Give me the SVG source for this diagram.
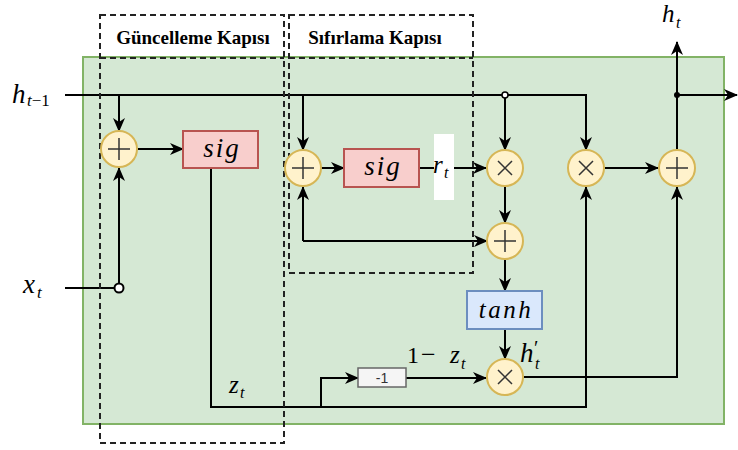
<svg xmlns="http://www.w3.org/2000/svg" width="738" height="450" viewBox="0 0 738 450">
<defs>
<marker id="ar" markerUnits="userSpaceOnUse" markerWidth="14" markerHeight="14" viewBox="0 0 14 14" refX="13" refY="7" orient="auto-start-reverse">
<path d="M0,1 L14,7 L0,13 L4,7 Z" fill="#000"/>
</marker>
<g id="plus-sym"><path d="M-11,0 H11 M0,-11 V11" stroke="#333" stroke-width="1.5" fill="none"/></g>
<g id="times-sym"><path d="M-7,-7 L7,7 M-7,7 L7,-7" stroke="#333" stroke-width="1.5" fill="none"/></g>
</defs>
<style>
.op{fill:#fff2cc;stroke:#d6b656;stroke-width:2}
.sig{fill:#f8cecc;stroke:#b85450;stroke-width:2}
.tanh{fill:#dae8fc;stroke:#6c8ebf;stroke-width:2}
.gate{fill:none;stroke:#222;stroke-width:2;stroke-dasharray:6 4}
.ln{fill:none;stroke:#000;stroke-width:2}
.arr{marker-end:url(#ar)}
.m{font-family:"Liberation Serif",serif;font-style:italic;fill:#000}
.r{font-family:"Liberation Serif",serif;fill:#000}
.ttl{font-family:"Liberation Serif",serif;font-weight:bold;font-size:19px;fill:#000}
</style>
<rect id="cell" x="83" y="57" width="641" height="367" fill="#d5e8d4" stroke="#82b366" stroke-width="2"/>

<g id="connectors">
<path class="ln arr" d="M65,95 H586 V150"/>
<path class="ln arr" d="M119,95 V131"/>
<path class="ln arr" d="M303,95 V150"/>
<path class="ln arr" d="M505,95 V150"/>
<path class="ln" d="M65,288 H115"/>
<path class="ln arr" d="M119,284 V168"/>
<path class="ln arr" d="M138,149 H183"/>
<path class="ln arr" d="M211,168 V407 H586 V187"/>
<path class="ln arr" d="M321,407 V378 H358"/>
<path class="ln arr" d="M406,378 H486"/>
<path class="ln arr" d="M321,168 H344"/>
<path class="ln arr" d="M419,168 H486"/>
<path class="ln arr" d="M505,187 V223"/>
<path class="ln arr" d="M303,241 V187"/>
<path class="ln arr" d="M303,241 H487"/>
<path class="ln arr" d="M505,260 V291"/>
<path class="ln arr" d="M505,329 V359"/>
<path class="ln arr" d="M524,377 H677 V187"/>
<path class="ln arr" d="M605,168 H658"/>
<path class="ln arr" d="M677,150 V42"/>
<path class="ln arr" d="M677,95 H737"/>
<circle cx="505" cy="95" r="3" fill="#fff" stroke="#000" stroke-width="1.5"/>
<circle cx="677" cy="95" r="3" fill="#000"/>
<circle cx="119" cy="288" r="4.5" fill="#fff" stroke="#000" stroke-width="2"/>
</g>

<g id="gate-update">
<rect class="gate" x="100" y="15" width="184" height="428"/>
<path class="gate" d="M100,58 H284"/>
<text class="ttl" x="193" y="44" text-anchor="middle">Güncelleme Kapısı</text>
</g>
<g id="gate-reset">
<rect class="gate" x="289" y="15" width="184" height="258"/>
<path class="gate" d="M289,58 H473"/>
<text class="ttl" x="375" y="44" text-anchor="middle">Sıfırlama Kapısı</text>
</g>

<g id="add1"><circle class="op" cx="119" cy="149" r="18"/><use href="#plus-sym" x="119" y="149"/></g>
<g id="sig1"><rect class="sig" x="183" y="131" width="75" height="37"/><text class="m" x="222" y="157" font-size="27" letter-spacing="2" text-anchor="middle">sig</text></g>

<g id="add2"><circle class="op" cx="303" cy="168" r="18"/><use href="#plus-sym" x="303" y="168"/></g>
<g id="sig2"><rect class="sig" x="344" y="149" width="75" height="38"/><text class="m" x="383" y="175" font-size="27" letter-spacing="2" text-anchor="middle">sig</text></g>
<g id="rt"><rect x="434" y="134" width="20" height="66" fill="#fff"/><text class="m" x="433" y="173" font-size="25">r<tspan x="444" y="178" font-size="16">t</tspan></text></g>

<g id="mul1"><circle class="op" cx="505" cy="168" r="18"/><use href="#times-sym" x="505" y="168"/></g>
<g id="add3"><circle class="op" cx="505" cy="241" r="18"/><use href="#plus-sym" x="505" y="241"/></g>
<g id="tanh"><rect class="tanh" x="467" y="291" width="75" height="38"/><text class="m" x="506" y="318" font-size="25" letter-spacing="2.5" text-anchor="middle">tanh</text></g>
<g id="mul3"><circle class="op" cx="505" cy="377" r="18"/><use href="#times-sym" x="505" y="377"/></g>
<g id="mul2"><circle class="op" cx="586" cy="168" r="18"/><use href="#times-sym" x="586" y="168"/></g>
<g id="add4"><circle class="op" cx="677" cy="168" r="18"/><use href="#plus-sym" x="677" y="168"/></g>
<g id="neg"><rect x="358" y="368" width="48" height="19" fill="#f5f5f5" stroke="#666" stroke-width="1.5"/><text x="382" y="383" font-family="Liberation Sans, Arial, sans-serif" font-size="14" fill="#333" text-anchor="middle">-1</text></g>

<g id="labels">
<text class="m" x="12" y="103" font-size="27">h<tspan x="27" y="106" font-size="17">t</tspan><tspan font-size="17" font-style="normal">−1</tspan></text>
<text class="m" x="662" y="22" font-size="25">h<tspan x="676" y="28" font-size="16">t</tspan></text>
<text class="m" x="23" y="293" font-size="27">x<tspan x="37" y="298" font-size="17">t</tspan></text>
<text class="m" x="229" y="393" font-size="25">z<tspan x="240" y="398" font-size="16">t</tspan></text>
<text class="r" x="407" y="363" font-size="24">1<tspan x="421" font-size="26">−</tspan><tspan x="450" font-style="italic" font-size="25">z</tspan><tspan x="461" y="369" font-style="italic" font-size="16">t</tspan></text>
<text class="m" x="520" y="362" font-size="27">h<tspan x="534" y="355" font-style="normal" font-size="20">′</tspan><tspan x="535" y="369" font-size="16">t</tspan></text>
</g>
</svg>
